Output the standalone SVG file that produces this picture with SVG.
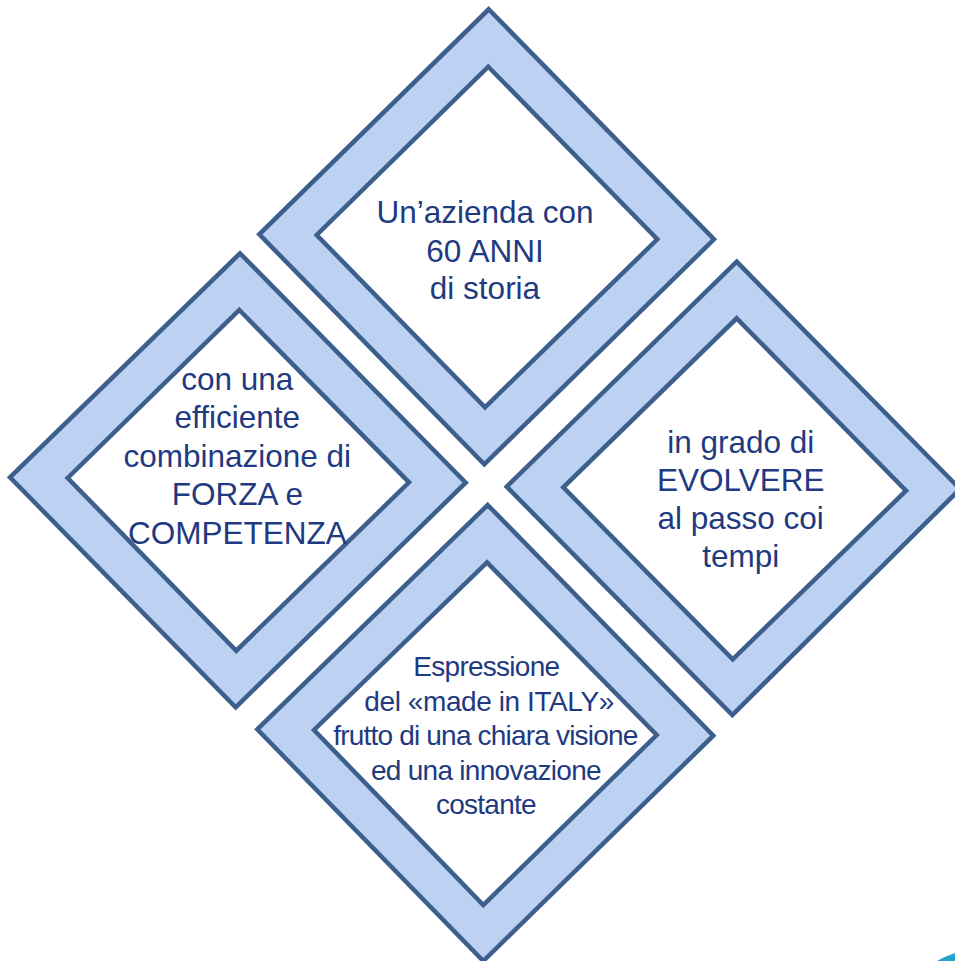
<svg xmlns="http://www.w3.org/2000/svg" width="955" height="961" viewBox="0 0 955 961">
<style>
.frame{fill:#BDD1F2;fill-rule:evenodd;stroke:#3C5F8E;stroke-width:4.5;stroke-linejoin:miter}
.t{font-family:"Liberation Sans",Arial,sans-serif;font-size:31.5px;fill:#1F3A80;text-anchor:middle}
.c{font-family:"Liberation Sans",Arial,sans-serif;font-size:28px;fill:#1F3A80;text-anchor:middle}
</style>
<rect width="955" height="961" fill="#FFFFFF"/>
<g id="connectors"></g>
<g id="node-top">
<path class="frame" d="M488.7,9.3 L714,239.3 L484.3,464.3 L259.3,234.3 Z M488.3,66.7 L657.3,239.3 L485,407.3 L316.7,235 Z"/>
<text class="t" x="485" y="222.7">Un’azienda con</text>
<text class="t" x="485" y="261.7">60 ANNI</text>
<text class="t" x="485" y="299">di storia</text>
</g>
<g id="node-left">
<path class="frame" d="M240,253.3 L465.7,482.7 L235.7,707.3 L10,477.3 Z M239.3,310 L409,482.3 L236.3,650.7 L67.7,478 Z"/>
<text class="t" x="237.3" y="390">con una</text>
<text class="t" x="237.3" y="428.3">efficiente</text>
<text class="t" x="237.3" y="467.3">combinazione di</text>
<text class="t" x="237.3" y="505">FORZA e</text>
<text class="t" x="237.3" y="544">COMPETENZA</text>
</g>
<g id="node-right">
<path class="frame" d="M736.7,261.7 L960,489 L732.3,715 L506.7,486.7 Z M736.7,318.3 L906,490.7 L732.7,659.3 L563.3,487.3 Z"/>
<text class="t" x="740.7" y="452.7">in grado di</text>
<text class="t" x="740.7" y="490.7">EVOLVERE</text>
<text class="t" x="740.7" y="529.3">al passo coi</text>
<text class="t" x="740.7" y="566.7">tempi</text>
</g>
<g id="node-bottom">
<path class="frame" d="M487.7,505 L713.3,735.7 L483.3,961 L257.3,729.3 Z M487,562.3 L656.7,735 L483.3,905 L314,730 Z"/>
<text class="c" x="486.7" y="675.7" textLength="146.7" lengthAdjust="spacing">Espressione</text>
<text class="c" x="489.3" y="710.7" textLength="250" lengthAdjust="spacing">del «made in ITALY»</text>
<text class="c" x="485.8" y="745" textLength="305" lengthAdjust="spacing">frutto di una chiara visione</text>
<text class="c" x="486.3" y="780" textLength="230.7" lengthAdjust="spacing">ed una innovazione</text>
<text class="c" x="486.3" y="814.3" textLength="100.7" lengthAdjust="spacing">costante</text>
</g>
<path d="M937,961 Q946,956 955,953 L955,961 Z" fill="#22A3C9"/>
</svg>
